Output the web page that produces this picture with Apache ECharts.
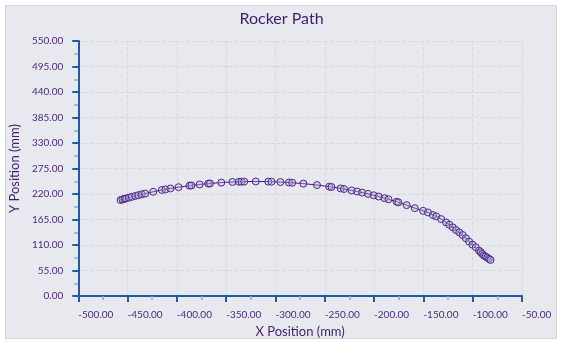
<!DOCTYPE html>
<html><head><meta charset="utf-8">
<script src="https://cdn.jsdelivr.net/npm/echarts@6/dist/echarts.min.js"></script>
<style>html,body{margin:0;padding:0;background:#fff;}#c{width:563px;height:343px;}</style>
</head><body><div id="c"></div>
<script>
const titleText = "Rocker Path";
const xAxisName = "X Position (mm)";
const yAxisName = "Y Position (mm)";
const xMin = -500, xMax = -50, xStep = 50;
const yMin = 0, yMax = 550, yStep = 55;
const xValues = [-457.1,-455.1,-453.1,-451.6,-448.6,-445.6,-442.1,-439.1,-435.6,-432.1,-424.0,-415.2,-411.5,-406.5,-398.3,-387.2,-385.2,-376.9,-368.2,-366.4,-354.9,-343.7,-337.1,-334.4,-331.7,-320.0,-307.3,-304.0,-295.0,-286.3,-283.0,-271.7,-257.9,-245.5,-243.2,-233.9,-230.5,-222.8,-217.1,-212.1,-206.1,-200.4,-195.4,-189.4,-185.4,-177.1,-175.4,-167.0,-158.7,-150.3,-145.3,-140.3,-137.0,-132.0,-127.0,-123.7,-120.2,-116.9,-113.6,-110.2,-106.9,-103.6,-100.2,-96.9,-93.6,-91.9,-90.2,-88.6,-86.9,-85.2,-83.6,-81.9];
const yValues = [207.0,208.3,209.5,210.4,212.2,213.9,215.9,217.5,219.3,221.0,224.8,228.6,230.0,231.9,234.7,238.0,238.5,240.6,242.4,242.7,244.6,245.9,246.4,246.6,246.7,247.0,246.7,246.5,245.8,244.8,244.3,242.4,239.3,235.9,235.2,232.0,230.8,227.7,225.3,223.0,220.2,217.2,214.5,211.0,208.6,203.2,202.0,196.0,189.5,183.7,180.2,174.5,171.7,165.9,158.7,153.7,148.0,142.3,137.3,131.5,124.5,117.2,110.7,105.2,97.9,94.4,90.8,87.1,85.0,82.8,80.0,77.9];

const purple = '#3f1d6e';
const labelColor = '#4a2a7a';
const axisBlue = '#1f5aa6';
const font = 'Lato, "Open Sans", sans-serif';

const chart = echarts.init(document.getElementById('c'), null, {renderer:'canvas'});
chart.setOption({
  animation:false,
  backgroundColor:'#ffffff',
  graphic:[{type:'rect', z:-10, silent:true, shape:{x:5.5,y:5.5,width:551,height:333}, style:{fill:'#e8e9ee', stroke:'#d3d5db', lineWidth:1}}],
  title:{text:titleText, left:'center', top:6, textStyle:{color:purple, fontSize:16, fontWeight:'normal', fontFamily:font}},
  grid:{left:73, right:41, top:41, bottom:46, containLabel:false},
  xAxis:{type:'value', min:xMin, max:xMax, interval:xStep,
    name:xAxisName, nameLocation:'middle', nameGap:29,
    nameTextStyle:{color:purple, fontSize:13, fontFamily:font},
    axisLine:{show:true, onZero:false, lineStyle:{color:axisBlue, width:2}},
    axisTick:{show:true, length:6, lineStyle:{color:axisBlue, width:2}},
    minorTick:{show:true, splitNumber:2, length:4, lineStyle:{color:'#8aa6cc', width:1.5}},
    axisLabel:{color:labelColor, fontSize:10, fontFamily:font, margin:14, align:'left', formatter:v=>v.toFixed(2)},
    splitLine:{show:true, lineStyle:{color:'#d6d8de', type:'dashed', width:1}}
  },
  yAxis:{type:'value', min:yMin, max:yMax, interval:yStep,
    name:yAxisName, nameLocation:'middle', nameGap:51,
    nameTextStyle:{color:purple, fontSize:13, fontFamily:font},
    axisLine:{show:true, onZero:false, lineStyle:{color:axisBlue, width:2}},
    axisTick:{show:true, length:6, lineStyle:{color:axisBlue, width:2}},
    minorTick:{show:true, splitNumber:2, length:4, lineStyle:{color:'#8aa6cc', width:1.5}},
    axisLabel:{color:labelColor, fontSize:10, fontFamily:font, margin:15, formatter:v=>v.toFixed(2)},
    splitLine:{show:true, lineStyle:{color:'#d6d8de', type:'dashed', width:1}}
  },
  series:[{type:'line', data:xValues.map((x,i)=>[x,yValues[i]]),
    symbol:'circle', symbolSize:7, showAllSymbol:true,
    lineStyle:{color:purple, width:1},
    itemStyle:{color:'rgba(190,175,225,0.35)', borderColor:'#4b2a86', borderWidth:1}
  }]
});
</script></body></html>
